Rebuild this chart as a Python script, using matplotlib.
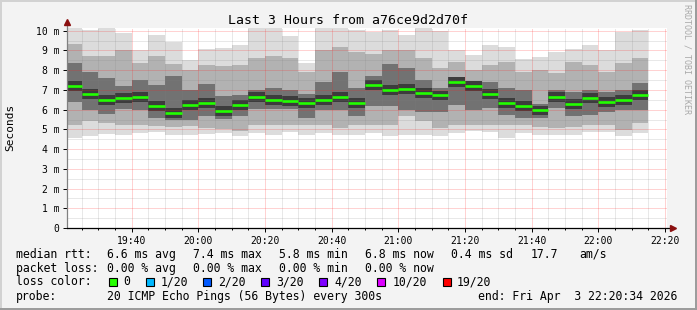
import matplotlib
matplotlib.use("Agg")
import matplotlib.pyplot as plt
import matplotlib.dates as mdates
from matplotlib.patches import Rectangle
from datetime import datetime, timedelta

plt.rcParams['font.family'] = ['DejaVu Sans Mono', 'DejaVu Sans']

# ---------------- data ----------------
title = "Last 3 Hours from a76ce9d2d70f"
t_start = datetime(2026, 4, 3, 19, 20, 34)
t_end = datetime(2026, 4, 3, 22, 20, 34)
first_bar_end = datetime(2026, 4, 3, 19, 25, 0)
step_minutes = 5

median = [7.20, 6.79, 6.47, 6.60, 6.65, 6.18, 5.83, 6.23, 6.34, 5.93,
          6.23, 6.65, 6.50, 6.45, 6.35, 6.50, 6.65, 6.34, 7.25, 7.01,
          7.06, 6.86, 6.72, 7.40, 7.18, 6.81, 6.35, 6.18, 5.96, 6.65,
          6.30, 6.59, 6.40, 6.50, 6.76]
ping_min = [4.55, 4.65, 4.75, 4.70, 4.80, 4.85, 4.70, 4.70, 4.75, 4.80,
            4.65, 4.80, 4.70, 4.85, 4.70, 4.80, 4.70, 4.70, 4.80, 4.65,
            4.70, 4.70, 4.65, 4.80, 4.90, 4.85, 4.55, 4.80, 4.70, 4.70,
            4.70, 4.85, 4.85, 4.65, 4.80]
ping_p10 = [5.20, 5.40, 5.30, 5.20, 5.20, 5.15, 5.10, 5.15, 5.05, 5.00,
            4.90, 5.20, 5.20, 5.20, 5.20, 5.20, 5.05, 5.20, 5.20, 5.20,
            5.70, 5.40, 5.05, 5.20, 5.20, 5.20, 5.20, 5.20, 5.10, 5.05,
            5.10, 5.20, 5.20, 4.95, 5.30]
ping_p25 = [6.40, 6.00, 5.80, 6.05, 6.00, 5.60, 5.50, 5.50, 5.70, 5.55,
            5.70, 6.05, 6.05, 6.05, 5.60, 6.00, 6.00, 5.70, 6.20, 6.20,
            6.00, 5.90, 5.90, 6.25, 6.00, 6.10, 5.75, 5.60, 5.60, 6.10,
            5.70, 5.75, 5.90, 6.00, 6.00]
ping_p75 = [8.35, 7.90, 7.60, 7.20, 7.50, 7.25, 7.70, 7.00, 7.30, 6.70,
            6.75, 7.00, 7.10, 7.00, 6.80, 7.40, 7.90, 7.10, 7.70, 8.30,
            8.10, 7.50, 7.10, 7.60, 7.25, 7.40, 7.10, 7.00, 6.30, 7.00,
            6.90, 7.00, 6.90, 7.00, 7.35]
ping_p90 = [9.35, 8.70, 8.70, 9.00, 8.35, 8.70, 8.30, 8.00, 8.26, 8.20,
            8.26, 8.60, 8.70, 8.60, 7.90, 9.00, 9.20, 8.90, 8.80, 9.00,
            9.00, 8.60, 8.10, 8.40, 8.00, 8.26, 8.40, 7.90, 8.00, 7.85,
            8.40, 8.26, 7.90, 8.35, 8.60]
ping_max = [10.20, 10.04, 10.20, 9.90, 9.02, 9.78, 9.44, 8.51, 9.10, 9.14,
            9.27, 10.20, 10.20, 9.73, 8.38, 10.20, 10.20, 10.04, 9.95, 10.04,
            9.78, 10.20, 10.00, 9.02, 8.77, 9.27, 9.19, 8.55, 8.68, 8.94,
            9.10, 9.27, 9.02, 9.95, 10.04]

ytick_values = [0, 1, 2, 3, 4, 5, 6, 7, 8, 9, 10]
ytick_labels = ["0", "1 m", "2 m", "3 m", "4 m", "5 m", "6 m", "7 m", "8 m", "9 m", "10 m"]

legend_rows = [
    [("median rtt:", 16), ("6.6 ms avg", 107), ("7.4 ms max", 193), ("5.8 ms min", 279),
     ("6.8 ms now", 365), ("0.4 ms sd", 451), ("17.7", 531), ("am/s", 579)],
    [("packet loss:", 16), ("0.00 % avg", 107), ("0.00 % max", 193), ("0.00 % min", 279),
     ("0.00 % now", 365)],
    [("loss color:", 16)],
    [("probe:", 16), ("20 ICMP Echo Pings (56 Bytes) every 300s", 107),
     ("end: Fri Apr  3 22:20:34 2026", 478)],
]
loss_labels = ["0", "1/20", "2/20", "3/20", "4/20", "10/20", "19/20"]
loss_colors = ["#26ff00", "#00b8ff", "#0059ff", "#5e00ff", "#7e00ff", "#dd00ff", "#ff0000"]
loss_box_x = [109, 146, 203, 261, 319, 377, 443]
loss_text_x = [123, 161, 218, 276, 334, 393, 457]

# ---------------- style ----------------
W, H = 697, 310
BG = "#f3f3f3"
CORE = 0.25
band_colors = ["#dcdcdc", "#b2b2b2", "#727272", "#3c3c3c"]


def fx(x):
    return x / W


def fy(y):
    return 1 - y / H


fig = plt.figure(figsize=(W / 100, H / 100), dpi=100, facecolor=BG)
ax = fig.add_axes([fx(67), fy(228), 600 / W, 200 / H])
ax.set_facecolor("white")

n = len(median)
bar_starts = [first_bar_end - timedelta(minutes=step_minutes) + timedelta(minutes=step_minutes * i)
              for i in range(n)]
width = step_minutes / 1440.0
xs = mdates.date2num(bar_starts)

layers = [
    (ping_min, ping_max, band_colors[0]),
    (ping_p10, ping_p90, band_colors[1]),
    (ping_p25, ping_p75, band_colors[2]),
    ([m - CORE for m in median], [m + CORE for m in median], band_colors[3]),
]
for lo, hi, c in layers:
    ax.bar(xs, [h - l for l, h in zip(lo, hi)], width=width, bottom=lo, align='edge',
           color=c, linewidth=0, zorder=1)

ax.hlines(median, xs, xs + width, colors="#22ff00", linewidth=1.9, zorder=4)

ax.set_xlim(mdates.date2num(t_start), mdates.date2num(t_end))
ax.set_ylim(0, 10.14)

ax.xaxis.set_major_locator(mdates.MinuteLocator(byminute=[0, 20, 40]))
ax.xaxis.set_minor_locator(mdates.MinuteLocator(byminute=range(0, 60, 5)))
ax.xaxis.set_major_formatter(mdates.DateFormatter("%H:%M"))
ax.set_yticks(ytick_values)
ax.set_yticklabels(ytick_labels)
ax.set_yticks([v + 0.5 for v in ytick_values[:-1]], minor=True)

ax.set_axisbelow(False)
ax.grid(which='minor', color='#808080', alpha=0.35, linestyle=(0, (1, 1)), linewidth=0.72, zorder=2)
ax.grid(which='major', color='#ff2020', alpha=0.4, linestyle=(0, (1, 1)), linewidth=0.72, zorder=3)

ax.tick_params(axis='both', which='major', labelsize=7, colors='#000000', length=3, width=0.7, pad=2.5)
ax.tick_params(axis='both', which='minor', length=1.5, width=0.7)
ax.tick_params(axis='y', which='minor', length=0)

for s in ['top', 'right', 'left', 'bottom']:
    ax.spines[s].set_visible(False)

# axes lines with arrows
ax.plot([0, 0], [0, 1.03], transform=ax.transAxes, color='#808080', lw=0.9, clip_on=False, zorder=5)
ax.plot([0, 1.006], [0, 0], transform=ax.transAxes, color='#000000', lw=0.9, clip_on=False, zorder=5)
ax.plot([0], [1.03], transform=ax.transAxes, marker='^', color='#8b1010', markersize=5,
        clip_on=False, zorder=6)
ax.plot([1.01], [0], transform=ax.transAxes, marker='>', color='#8b1010', markersize=5,
        clip_on=False, zorder=6)

# title & labels
fig.text(fx(348), fy(20), title, ha='center', va='center', fontsize=9.5)
fig.text(fx(10), fy(127), "Seconds", rotation=90, ha='center', va='center', fontsize=8)
fig.text(fx(687), fy(59), "RRDTOOL / TOBI OETIKER", rotation=270, ha='center', va='center',
         fontsize=6, color='#a9a9a9')

row_y = [254.3, 268.3, 281.7, 296.7]
for row, yy in zip(legend_rows, row_y):
    for txt, xx in row:
        fig.text(fx(xx), fy(yy), txt, ha='left', va='center', fontsize=8.3)

for c, bx, lab, tx in zip(loss_colors, loss_box_x, loss_labels, loss_text_x):
    fig.add_artist(Rectangle((fx(bx), fy(row_y[2] + 4)), 8 / W, 8 / H, transform=fig.transFigure,
                             facecolor=c, edgecolor='black', linewidth=0.8))
    fig.text(fx(tx), fy(row_y[2]), lab, ha='left', va='center', fontsize=8.3)

# 3D-ish frame
fig.add_artist(Rectangle((0, 0), 1, 2 / H, transform=fig.transFigure, color='#9c9c9c', lw=0))
fig.add_artist(Rectangle((1 - 2 / W, 0), 2 / W, 1, transform=fig.transFigure, color='#9c9c9c', lw=0))
fig.add_artist(Rectangle((0, 1 - 2 / H), 1 - 2 / W, 2 / H, transform=fig.transFigure, color='#d2d2d2', lw=0))
fig.add_artist(Rectangle((0, 2 / H), 2 / W, 1 - 4 / H, transform=fig.transFigure, color='#d2d2d2', lw=0))

fig.savefig("out.png", dpi=100, facecolor=BG)
